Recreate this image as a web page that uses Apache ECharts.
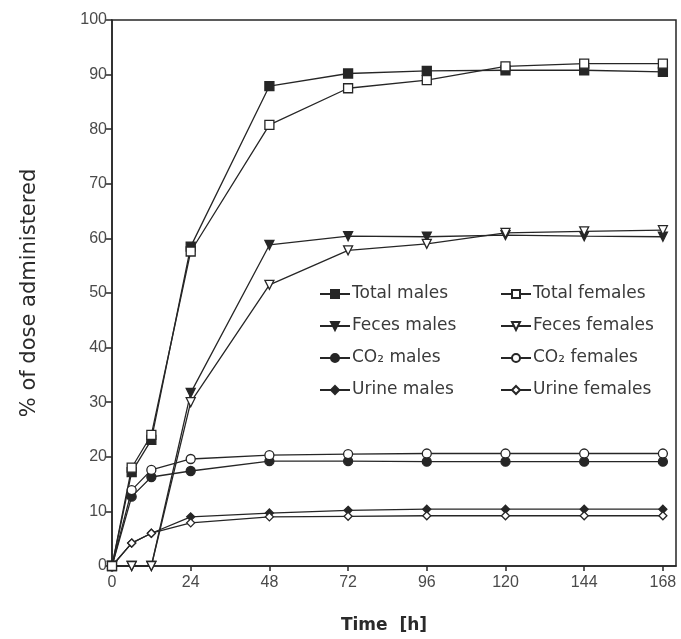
<!DOCTYPE html>
<html>
<head>
<meta charset="utf-8">
<script src="https://cdn.jsdelivr.net/npm/echarts@6/dist/echarts.min.js"></script>
<style>html,body{margin:0;padding:0;background:#fff;}#c{width:681px;height:639px;}</style>
</head>
<body>
<div id="c"></div>
<script>
const times = [0, 6, 12, 24, 48, 72, 96, 120, 144, 168];
const xTicks = [0, 24, 48, 72, 96, 120, 144, 168];
const totalMales   = [0, 17.2, 23.1, 58.5, 87.9, 90.2, 90.7, 90.8, 90.8, 90.5];
const totalFemales = [0, 18.0, 24.0, 57.6, 80.8, 87.5, 89.0, 91.5, 92.0, 92.0];
const fecesMales   = [0, 0, 0, 31.7, 58.8, 60.4, 60.3, 60.6, 60.4, 60.3];
const fecesFemales = [0, 0, 0, 30.0, 51.5, 57.8, 59.0, 61.0, 61.3, 61.5];
const co2Males     = [0, 12.7, 16.3, 17.4, 19.2, 19.2, 19.1, 19.1, 19.1, 19.1];
const co2Females   = [0, 13.9, 17.6, 19.6, 20.3, 20.5, 20.6, 20.6, 20.6, 20.6];
const urineMales   = [0, 4.2, 6.0, 9.0, 9.7, 10.2, 10.4, 10.4, 10.4, 10.4];
const urineFemales = [0, 4.2, 6.0, 7.9, 9.0, 9.1, 9.2, 9.2, 9.2, 9.2];

const ink = '#262626';
function pairs(v){ return times.map((t,i)=>[t, v[i]]); }
function mk(name, vals, symbol, filled, size, rot){
  return {
    name: name, type: 'line', data: pairs(vals),
    symbol: symbol, symbolSize: size, symbolRotate: rot || 0,
    showSymbol: true,
    lineStyle: {color: ink, width: 1.3},
    itemStyle: {color: filled ? ink : '#fff', borderColor: ink, borderWidth: 1.3},
    emphasis: {disabled: true},
    animation: false
  };
}
const chart = echarts.init(document.getElementById('c'), null, {renderer: 'canvas'});
const legendBase = {
  orient: 'vertical', itemWidth: 30, itemHeight: 10, itemGap: 14,
  padding: 0, selectedMode: false,
  textStyle: {fontFamily: 'DejaVu Sans', fontSize: 17, color: '#3a3a3a', lineHeight: 18, padding: [0, 0, 0, -3]}
};
chart.setOption({
  backgroundColor: '#fff',
  animation: false,
  grid: {left: 112, top: 20, right: 5, bottom: 73, show: true, borderColor: ink, borderWidth: 1.5, backgroundColor: 'transparent'},
  legend: [
    Object.assign({}, legendBase, {left: 319, top: 285, data: ['Total males', 'Feces males', 'CO₂ males', 'Urine males']}),
    Object.assign({}, legendBase, {left: 500, top: 285, data: ['Total females', 'Feces females', 'CO₂ females', 'Urine females']})
  ],
  xAxis: {
    type: 'value', min: 0, max: 172,
    name: 'Time  [h]', nameLocation: 'middle', nameGap: 51,
    nameTextStyle: {fontFamily: 'DejaVu Sans', fontSize: 17, fontWeight: 'bold', color: '#2a2a2a', padding: [0, 20, 0, 0]},
    axisLine: {lineStyle: {color: ink, width: 1.5}},
    axisTick: {show: true, length: 5, inside: false, customValues: xTicks, lineStyle: {color: ink, width: 1.5}},
    axisLabel: {customValues: xTicks, fontFamily: 'Liberation Sans', fontSize: 16, color: '#4a4a4a', margin: 9},
    splitLine: {show: false}
  },
  yAxis: {
    type: 'value', min: 0, max: 100, interval: 10,
    name: '% of dose administered', nameLocation: 'middle', nameGap: 72, nameRotate: 90,
    nameTextStyle: {fontFamily: 'DejaVu Sans', fontSize: 21, color: '#2a2a2a'},
    axisLine: {show: true, lineStyle: {color: ink, width: 1.5}},
    axisTick: {show: true, length: 6, lineStyle: {color: ink, width: 1.5}},
    axisLabel: {fontFamily: 'Liberation Sans', fontSize: 16, color: '#4a4a4a', margin: 5},
    splitLine: {show: false}
  },
  series: [
    mk('Urine males', urineMales, 'diamond', true, 8),
    mk('Urine females', urineFemales, 'diamond', false, 8),
    mk('CO₂ males', co2Males, 'circle', true, 9),
    mk('CO₂ females', co2Females, 'circle', false, 9),
    mk('Feces males', fecesMales, 'triangle', true, 9, 180),
    mk('Feces females', fecesFemales, 'triangle', false, 9, 180),
    mk('Total males', totalMales, 'rect', true, 9),
    mk('Total females', totalFemales, 'rect', false, 9)
  ]
});
</script>
</body>
</html>
